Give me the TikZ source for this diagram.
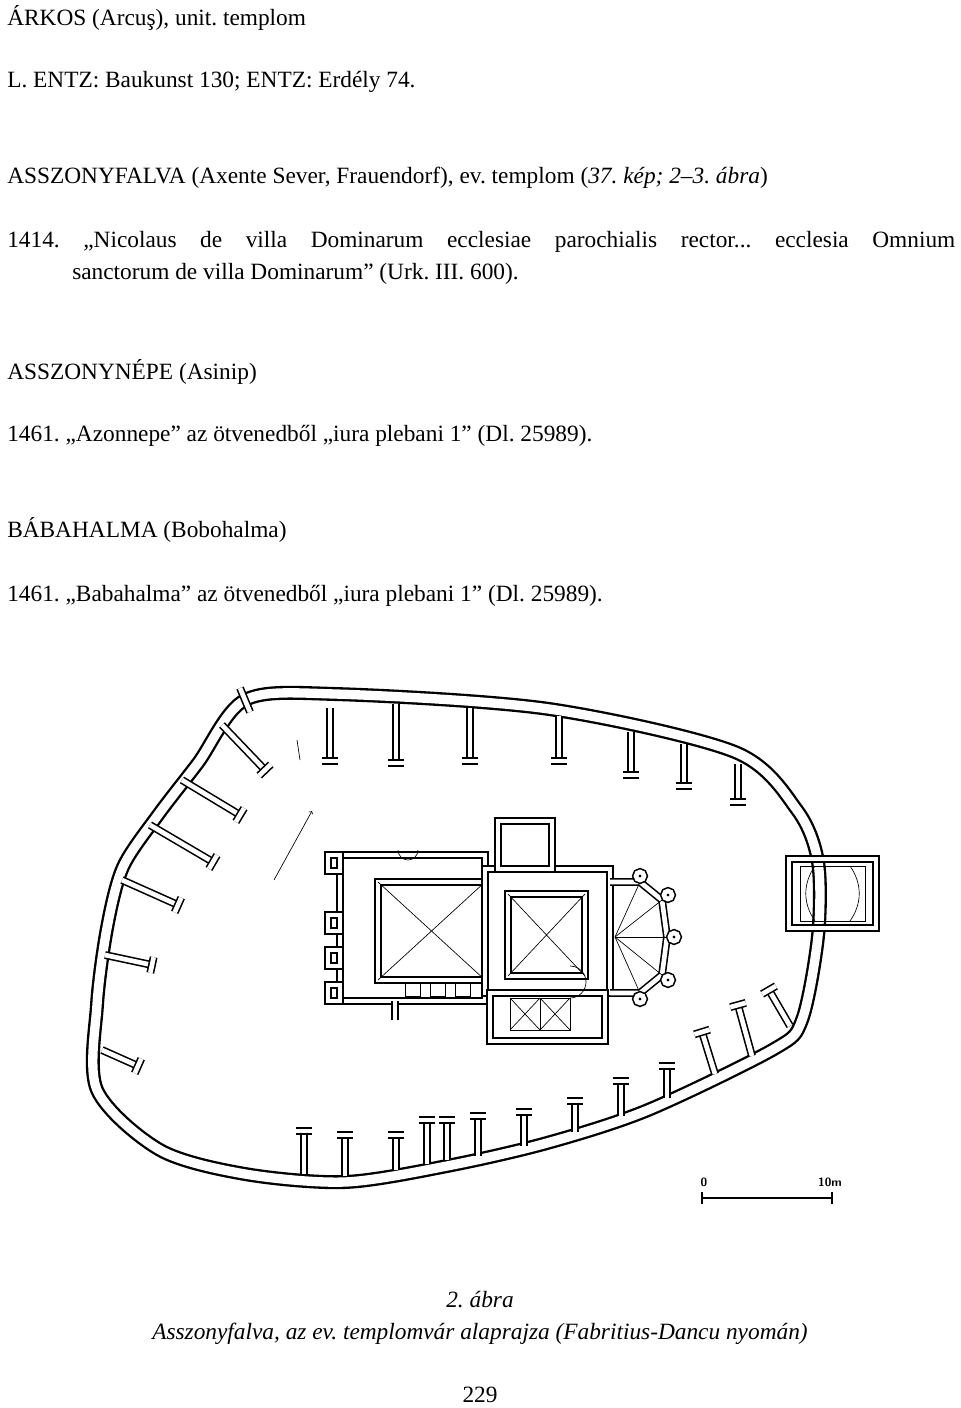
\documentclass[tikz,border=0pt]{standalone}
\usepackage{fontspec}
\setmainfont{Liberation Serif}
\usetikzlibrary{calc}
\begin{document}
\frenchspacing
\begin{tikzpicture}[x=0.75pt,y=-0.75pt,
  txt/.style={anchor=west,inner sep=0pt,font=\fontsize{17.5}{24}\selectfont},
  ctxt/.style={inner sep=0pt,font=\fontsize{17.5}{24}\selectfont},
  wall/.style={draw=black,double=white,double distance=3.5pt,line width=1.2pt},
  thin/.style={draw=black,line width=0.5pt}]
\useasboundingbox (0,0) rectangle (960,1408);
\node[txt] (t1) at (7,18) {ÁRKOS (Arcuş), unit. templom};
\node[txt] (t2) at (7,82) {L. ENTZ: Baukunst 130; ENTZ: Erdély 74.};
\node[txt] (t3) at (7,178) {ASSZONYFALVA (Axente Sever, Frauendorf), ev. templom (\textit{37. kép; 2–3. ábra})};
\node[txt] (t4) at (7,242) {\makebox[711pt][s]{1414. „Nicolaus de villa Dominarum ecclesiae parochialis rector... ecclesia Omnium}};
\node[txt] (t4b) at (72,274) {sanctorum de villa Dominarum” (Urk. III. 600).};
\node[txt] (t5) at (7,372) {ASSZONYNÉPE (Asinip)};
\node[txt] (t6) at (7,436) {1461. „Azonnepe” az ötvenedből „iura plebani 1” (Dl. 25989).};
\node[txt] (t7) at (7,530) {BÁBAHALMA (Bobohalma)};
\node[txt] (t8) at (7,596) {1461. „Babahalma” az ötvenedből „iura plebani 1” (Dl. 25989).};
\node[ctxt,font=\fontsize{17.5}{24}\selectfont\itshape] (c1) at (480,1300) {2. ábra};
\node[ctxt,font=\fontsize{17.5}{24}\selectfont\itshape] (c2) at (480,1334) {Asszonyfalva, az ev. templomvár alaprajza (Fabritius-Dancu nyomán)};
\node[ctxt] (pg) at (480,1395) {229};
% outer wall
\def\outerpts{(245,700) (335,694) (549,709) (735,752) (797,810) (818,862) (818,936) (802,1020) (774,1049) (648,1110) (547,1143) (447,1166) (345,1182) (245,1174) (160,1150) (97,1090) (97,1005) (107,928) (123,867) (158,815) (198,763)}
\draw[line width=10.5pt] plot[smooth cycle,tension=0.5] coordinates {\outerpts};
\draw[line width=7pt,white] plot[smooth cycle,tension=0.5] coordinates {\outerpts};
% cross walls with T ends
\foreach \a/\b/\c/\d in {330/708/330/761, 396/704/396/763, 470/708/470/761, 559/716/559/761, 631/732/631/775, 684/744/684/786, 738/764/738/802,
  222/725/265/770, 182/780/240/815, 150/825/213/862, 122/880/178/905, 105/955/152/965, 102/1050/138/1066,
  304/1174/304/1131, 345/1176/345/1135, 396/1170/396/1135, 427/1164/427/1120, 447/1160/447/1120, 478/1156/478/1116, 524/1146/524/1112, 575/1132/575/1101, 621/1116/621/1081, 667/1098/667/1066, 715/1074/702/1032, 752/1056/738/1005, 790/1026/769/990}
{
  \draw[wall] (\a,\b) -- (\c,\d);
  \draw[wall] ($(\c,\d)!6pt!90:(\a,\b)$) -- ($(\c,\d)!6pt!-90:(\a,\b)$);
}
\draw[wall] (240,688) -- (250,712);
\draw[thin] (297,740) -- (300,760);
% gate
\draw[wall] (789,859) rectangle (876,928);
\draw[thin] (800,866) rectangle (865,921);
\draw[thin] (815,866) to[bend right=35] (815,921);
\draw[thin] (850,866) to[bend left=35] (850,921);
% arrow
\draw[thin,->] (274,880) -- (312,811);
% church
\draw[wall] (340,855) rectangle (485,1001);
\draw[wall] (378,882) rectangle (485,980);
\draw[thin] (378,882) -- (485,980) (378,980) -- (485,882);
\foreach \yy in {855,915,950,985} \draw[wall] (328,\yy) rectangle (340,\yy+16);
\draw[wall] (395,1001) -- (395,1020);
\draw[thin] (398,850) arc[start angle=180,end angle=0,radius=10];
\draw[wall] (485,869) rectangle (610,993);
\draw[wall] (508,894) rectangle (585,976);
\draw[thin] (508,894) -- (585,976) (508,976) -- (585,894);
\draw[wall] (498,821) rectangle (552,869);
\draw[wall] (610,882) -- (640,882) -- (662,900) -- (667,937) -- (662,975) -- (640,993) -- (610,993);
\foreach \px/\py in {640/882,662/900,667/937,662/975,640/993} \draw[thin] (615,937) -- (\px,\py);
\foreach \px/\py in {640/876,668/895,674/937,668/980,640/999} \draw[wall] (\px,\py) circle (4);
\draw[wall] (490,993) rectangle (605,1041);
\draw[thin] (510,998) rectangle (540,1030) (540,998) rectangle (570,1030);
\draw[thin] (510,998) -- (540,1030) (510,1030) -- (540,998) (540,998) -- (570,1030) (540,1030) -- (570,998);
\draw[thin] (570,998) arc[start angle=90,end angle=-90,radius=16];
\foreach \hx in {405,430,455} \draw[thin] (\hx,983) rectangle (\hx+15,996);
% scale bar
\node[inner sep=0pt,font=\sffamily\bfseries\small] (s0) at (704,1182) {0};
\node[inner sep=0pt,font=\sffamily\bfseries\small] (s1) at (830,1182) {10m};
\draw[line width=1pt] (702,1198) -- (832,1198) (702,1192) -- (702,1204) (832,1192) -- (832,1204);
\end{tikzpicture}
\end{document}
